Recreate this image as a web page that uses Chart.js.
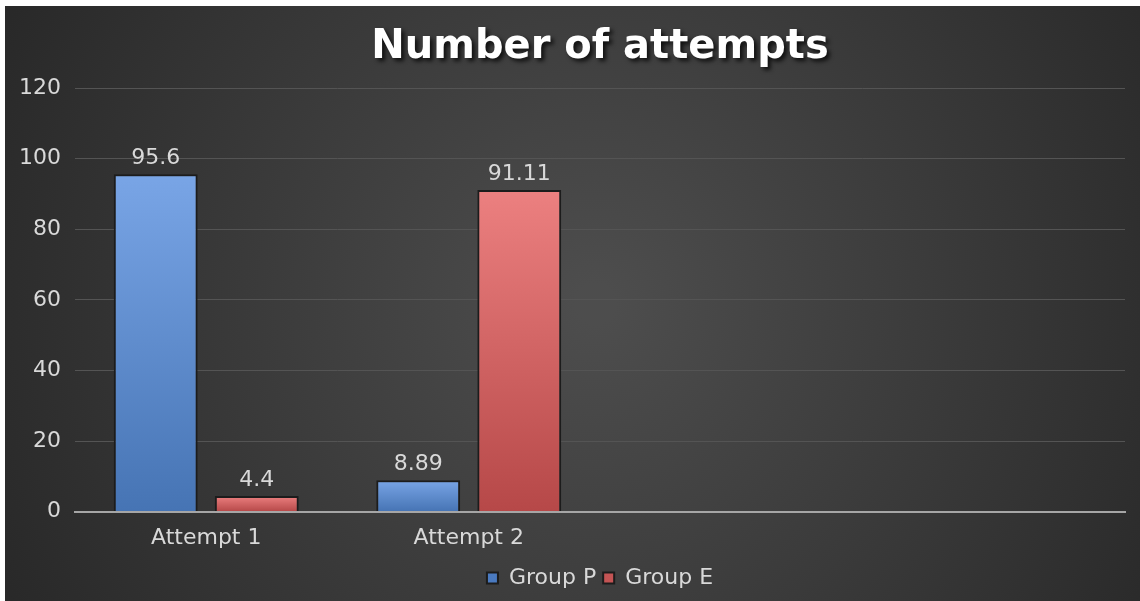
<!DOCTYPE html>
<html>
<head>
<meta charset="utf-8">
<script src="https://cdn.jsdelivr.net/npm/chart.js@4.4.1/dist/chart.umd.min.js"></script>
<style>
  html, body { margin: 0; padding: 0; background: #ffffff; }
  #wrap { position: absolute; left: 5px; top: 6px; width: 1135px; height: 595px; }
</style>
</head>
<body>
<div id="wrap"><canvas id="attemptsChart"></canvas></div>
<script>
// data
const categories = ['Attempt 1', 'Attempt 2', '', ''];
const groupP = [95.6, 8.89, null, null];
const groupE = [4.4, 91.11, null, null];
const yTicks = [0, 20, 40, 60, 80, 100, 120];

const FONT = "'DejaVu Sans', 'Liberation Sans', Arial, sans-serif";

// each bar gets its own top-to-bottom gradient
function barGradient(top, bottom) {
  return function (ctx) {
    const chart = ctx.chart;
    const y = chart.scales && chart.scales.y;
    if (ctx.raw == null || !y) return top;
    const y0 = y.getPixelForValue(ctx.raw);
    const y1 = y.getPixelForValue(0);
    if (!isFinite(y0) || !isFinite(y1) || y0 === y1) return top;
    const g = chart.ctx.createLinearGradient(0, y0, 0, y1);
    g.addColorStop(0, top);
    g.addColorStop(1, bottom);
    return g;
  };
}

const backgroundPlugin = {
  id: 'darkBackground',
  beforeDraw(chart) {
    const { ctx, width, height } = chart;
    ctx.save();
    const g = ctx.createRadialGradient(width * 0.52, height * 0.5, 20, width * 0.52, height * 0.5, width * 0.62);
    g.addColorStop(0, '#4d4d4d');
    g.addColorStop(1, '#262626');
    ctx.fillStyle = g;
    ctx.fillRect(0, 0, width, height);
    ctx.restore();
  }
};

// the built-in title only reserves the space; this redraws it with a drop shadow
const shadowTitle = {
  id: 'shadowTitle',
  afterDraw(chart) {
    const t = chart.titleBlock;
    if (!t) return;
    const opts = chart.options.plugins.title;
    const size = opts.font.size;
    const ctx = chart.ctx;
    ctx.save();
    ctx.font = 'bold ' + size + 'px ' + FONT;
    ctx.textAlign = 'center';
    ctx.textBaseline = 'middle';
    ctx.shadowColor = 'rgba(0,0,0,0.75)';
    ctx.shadowOffsetX = 3;
    ctx.shadowOffsetY = 3;
    ctx.shadowBlur = 4;
    ctx.fillStyle = '#ffffff';
    ctx.fillText(opts.text, (t.left + t.right) / 2, t.top + opts.padding.top + size * 0.6);
    ctx.restore();
  }
};

const valueLabels = {
  id: 'valueLabels',
  afterDatasetsDraw(chart) {
    const ctx = chart.ctx;
    ctx.save();
    ctx.font = '22px ' + FONT;
    ctx.fillStyle = '#d9d9d9';
    ctx.textAlign = 'center';
    ctx.textBaseline = 'bottom';
    chart.data.datasets.forEach((ds, i) => {
      chart.getDatasetMeta(i).data.forEach((bar, j) => {
        if (ds.data[j] == null) return;
        ctx.fillText(String(ds.data[j]), bar.x, bar.y - 5);
      });
    });
    ctx.restore();
  }
};

new Chart(document.getElementById('attemptsChart'), {
  type: 'bar',
  data: {
    labels: categories,
    datasets: [
      {
        label: 'Group P',
        data: groupP,
        backgroundColor: barGradient('#79a5e6', '#4674b4'),
        borderColor: '#1c1c1c',
        borderWidth: 2,
        categoryPercentage: 0.77,
        barPercentage: 0.83
      },
      {
        label: 'Group E',
        data: groupE,
        backgroundColor: barGradient('#ec8080', '#b64848'),
        borderColor: '#1c1c1c',
        borderWidth: 2,
        categoryPercentage: 0.77,
        barPercentage: 0.83
      }
    ]
  },
  options: {
    responsive: true,
    maintainAspectRatio: false,
    animation: false,
    layout: { padding: { left: 0, right: 15, top: 0, bottom: 2 } },
    scales: {
      x: {
        grid: { display: false },
        border: { display: true, color: '#a6a6a6', width: 2 },
        ticks: { color: '#d9d9d9', font: { family: FONT, size: 22 }, padding: 5 },
        afterFit(scale) { scale.height += 4; }
      },
      y: {
        min: 0,
        max: 120,
        afterBuildTicks(axis) { axis.ticks = yTicks.map(v => ({ value: v })); },
        grid: { color: '#545454', lineWidth: 1, drawTicks: false },
        border: { display: false },
        ticks: { color: '#d9d9d9', font: { family: FONT, size: 22 }, padding: 14 }
      }
    },
    plugins: {
      title: {
        display: true,
        fullSize: false,
        text: 'Number of attempts',
        color: 'rgba(0,0,0,0)',
        font: { family: FONT, size: 40, weight: 'bold' },
        padding: { top: 18, bottom: 16 }
      },
      legend: {
        position: 'bottom',
        fullSize: false,
        labels: {
          color: '#d9d9d9',
          font: { family: FONT, size: 22 },
          boxWidth: 11,
          boxHeight: 11,
          padding: 7,
          useBorderRadius: false,
          generateLabels(chart) {
            const fills = ['#4a7ac0', '#c45454'];
            return chart.data.datasets.map((ds, i) => ({
              text: ds.label,
              fillStyle: fills[i],
              strokeStyle: '#1c1c1c',
              lineWidth: 2,
              fontColor: '#d9d9d9',
              hidden: false,
              datasetIndex: i
            }));
          }
        }
      },
      tooltip: { enabled: false }
    }
  },
  plugins: [backgroundPlugin, valueLabels, shadowTitle]
});
</script>
</body>
</html>
